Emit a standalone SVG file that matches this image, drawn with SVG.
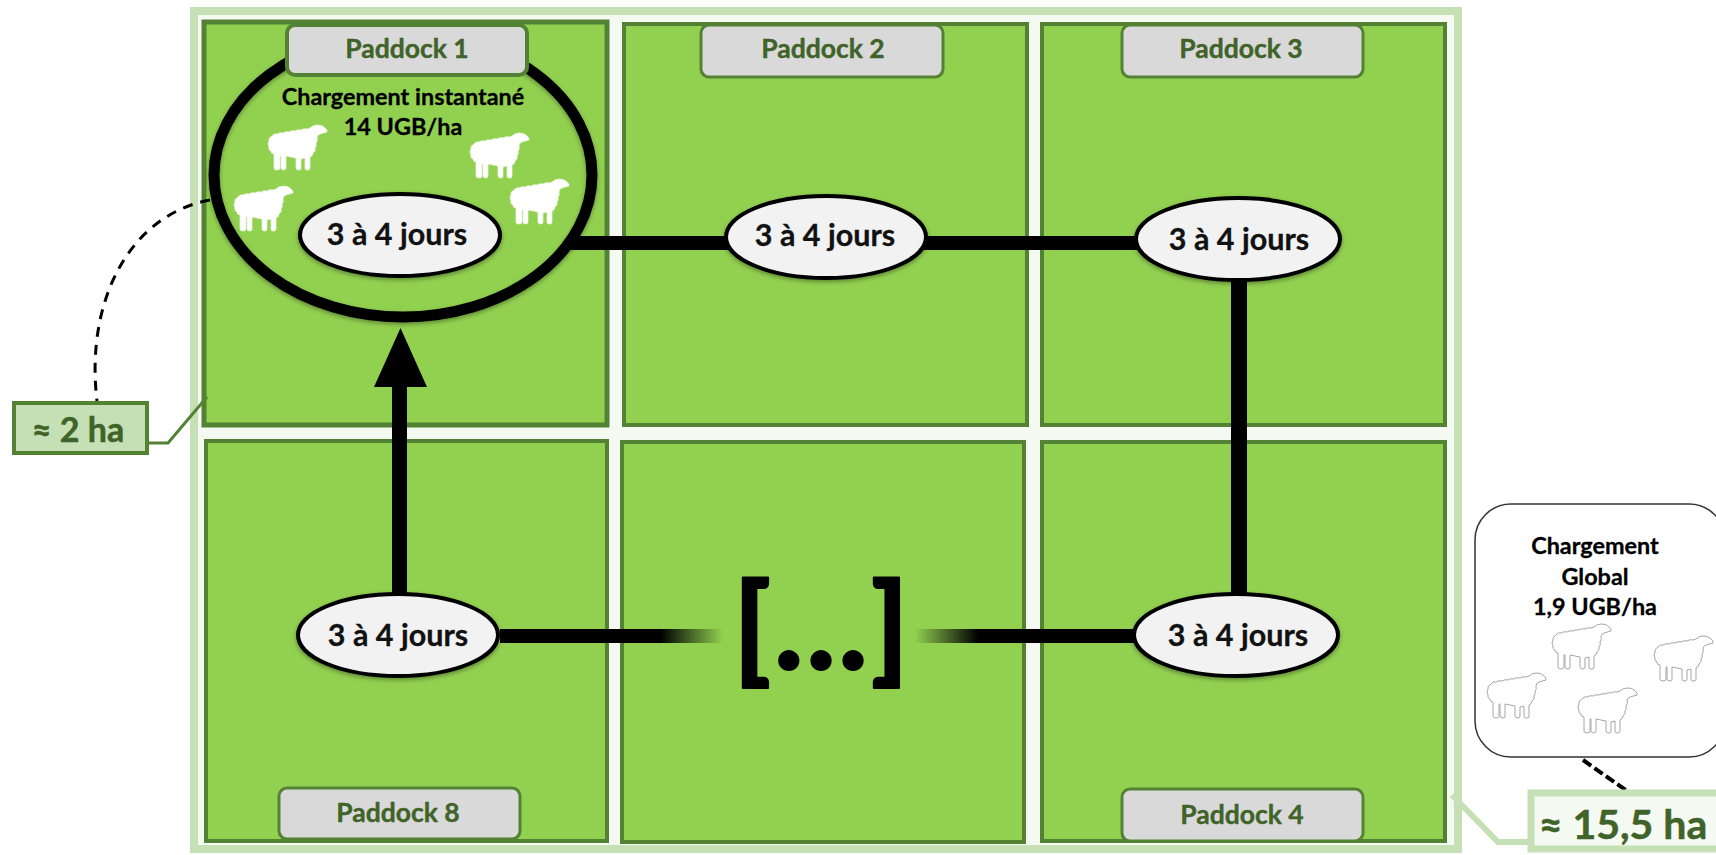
<svg xmlns="http://www.w3.org/2000/svg" width="1716" height="855" viewBox="0 0 1716 855">
<style>
text{font-family:"Lato","Carlito","Liberation Sans",sans-serif;font-weight:700;text-anchor:middle}
.pad{fill:#92d050;stroke:#548235;stroke-width:4}
.lab{fill:#d9d9d9;stroke:#548235;stroke-width:3}
.labt{font-size:26.5px;fill:#3f6328;stroke:#3f6328;stroke-width:.4}
.el{fill:#f2f2f2;stroke:#000;stroke-width:4;filter:url(#sh)}
.elt{font-size:30.5px;fill:#111;stroke:#111;stroke-width:.3}
.chg{font-size:23.4px;fill:#000;stroke:#000;stroke-width:.3}
.sw{fill:#fff;stroke:#e8f3dc;stroke-width:.8}
.sg{fill:#fff;stroke:#a6a6a6;stroke-width:1}
</style>
<defs>
<filter id="sh" x="-10%" y="-10%" width="120%" height="125%"><feDropShadow dx="0" dy="2" stdDeviation="2" flood-color="#000" flood-opacity=".35"/></filter>
<linearGradient id="fadeL" x1="0" x2="1" y1="0" y2="0"><stop offset="0" stop-color="#000"/><stop offset=".72" stop-color="#000"/><stop offset="1" stop-color="#000" stop-opacity="0"/></linearGradient>
<linearGradient id="fadeR" x1="0" x2="1" y1="0" y2="0"><stop offset="0" stop-color="#000" stop-opacity="0"/><stop offset=".28" stop-color="#000"/><stop offset="1" stop-color="#000"/></linearGradient>
<path id="sheep" d="M4,11Q6,8 9,9Q12,7 15,8Q18,6 21,7Q24,5 27,6Q30,4 33,5Q36,3 39,4L42,3Q45,0 49,0Q54,0 56,2Q60,5 59,7L52,9Q49,10 49,13Q50,16 48,18Q49,21 47,23Q48,26 45,28Q45,31 42,32L42,43Q42,45 40,45L39,45Q37,45 37,43L37,33L33,34L33,43Q33,45 31,45Q28,45 28,43L28,33L18,31L18,43Q18,45 16,45Q13,45 13,43L13,31L12,31L12,43Q12,45 9,45Q6,45 6,43L6,29Q3,29 3,26Q0,25 1,22Q-1,19 1,16Q0,13 4,11Z"/>
</defs>
<rect id="frame" x="194" y="11" width="1264" height="838" fill="#f4f9f1" stroke="#c5e0b4" stroke-width="8"/>
<g id="paddocks">
<rect id="p1" class="pad" style="stroke-width:5" x="204" y="22" width="403" height="403"/>
<rect id="p2" class="pad" x="624" y="24" width="403" height="401"/>
<rect id="p3" class="pad" x="1042" y="24" width="403" height="401"/>
<rect id="p8" class="pad" x="206" y="441" width="401" height="400"/>
<rect id="p9" class="pad" x="622" y="442" width="402" height="400"/>
<rect id="p4" class="pad" x="1042" y="442" width="403" height="399"/>
</g>
<g id="connectors">
<rect x="570" y="236" width="570" height="14" fill="#000"/>
<rect x="1231" y="280" width="16" height="316" fill="#000"/>
<rect x="500" y="629" width="223" height="14" fill="url(#fadeL)"/>
<rect x="915" y="629" width="225" height="14" fill="url(#fadeR)"/>
<path d="M392,596V387H374L400.500,328L427,387H407V596Z" fill="#000"/>
<path d="M210,200C130,215 85,300 97,401" fill="none" stroke="#000" stroke-width="3" stroke-dasharray="10 8"/>
<path d="M148,443H168L207,397" fill="none" stroke="#548235" stroke-width="3"/>
<path d="M1452,795L1498,842H1530" fill="none" stroke="#c5e0b4" stroke-width="6"/>
<path d="M1583,760L1627,791" fill="none" stroke="#000" stroke-width="4" stroke-dasharray="10 4"/>
</g>
<g id="node-big"><ellipse cx="403" cy="175" rx="189" ry="142" fill="none" stroke="#000" stroke-width="11" filter="url(#sh)"/></g>
<g id="sheep-white">
<use href="#sheep" class="sw" x="268" y="125"/>
<use href="#sheep" class="sw" x="470" y="133"/>
<use href="#sheep" class="sw" x="234" y="186"/>
<use href="#sheep" class="sw" x="510" y="179"/>
</g>
<g id="label-p1"><rect class="lab" style="stroke-width:4" x="287" y="25" width="240" height="50" rx="8"/><text class="labt" x="407" y="58">Paddock 1</text></g>
<g id="label-p2"><rect class="lab" x="701" y="25" width="242" height="52" rx="8"/><text class="labt" x="823" y="58">Paddock 2</text></g>
<g id="label-p3"><rect class="lab" x="1122" y="25" width="241" height="52" rx="8"/><text class="labt" x="1241" y="58">Paddock 3</text></g>
<g id="label-p8"><rect class="lab" x="279" y="788" width="241" height="51" rx="8"/><text class="labt" x="398" y="822">Paddock 8</text></g>
<g id="label-p4"><rect class="lab" x="1122" y="789" width="241" height="52" rx="8"/><text class="labt" x="1242" y="824">Paddock 4</text></g>
<g id="charge-inst"><text class="chg" x="403" y="105">Chargement instantané</text><text class="chg" x="403" y="135">14 UGB/ha</text></g>
<g id="n1"><ellipse class="el" cx="400" cy="235" rx="100" ry="41"/><text class="elt" x="397" y="245">3 à 4 jours</text></g>
<g id="n2"><ellipse class="el" cx="826" cy="237" rx="100" ry="41"/><text class="elt" x="825" y="246">3 à 4 jours</text></g>
<g id="n3"><ellipse class="el" cx="1238" cy="239" rx="102" ry="41"/><text class="elt" x="1239" y="250">3 à 4 jours</text></g>
<g id="n4"><ellipse class="el" cx="1236" cy="635" rx="102" ry="41"/><text class="elt" x="1238" y="646">3 à 4 jours</text></g>
<g id="n8"><ellipse class="el" cx="398" cy="635" rx="100" ry="41"/><text class="elt" x="398" y="646">3 à 4 jours</text></g>
<g id="ellipsis"><text x="823" y="669" font-size="118" fill="#000" stroke="#000" stroke-width="2" stroke-linejoin="round" letter-spacing="4" style="font-weight:900">[...]</text></g>
<g id="area-2"><rect x="14" y="403" width="133" height="50" fill="#c5e0b4" stroke="#548235" stroke-width="4"/><text x="78" y="442" font-size="34" fill="#3f6328" stroke="#3f6328" stroke-width=".5">≈ 2 ha</text></g>
<g id="charge-global">
<rect x="1475" y="504" width="250" height="253" rx="36" fill="#fff" stroke="#333" stroke-width="1.500"/>
<text class="chg" x="1595" y="554">Chargement</text><text class="chg" x="1595" y="585">Global</text><text class="chg" x="1595" y="615">1,9 UGB/ha</text>
<use href="#sheep" class="sg" x="1552" y="624"/><use href="#sheep" class="sg" x="1654" y="636"/><use href="#sheep" class="sg" x="1487" y="673"/><use href="#sheep" class="sg" x="1578" y="688"/>
</g>
<g id="area-15"><rect x="1531" y="793" width="195" height="56" fill="#f4f9f1" stroke="#c5e0b4" stroke-width="7"/><text x="1623" y="839" font-size="41" fill="#3f6328" stroke="#3f6328" stroke-width=".5">≈ 15,5 ha</text></g>
</svg>
